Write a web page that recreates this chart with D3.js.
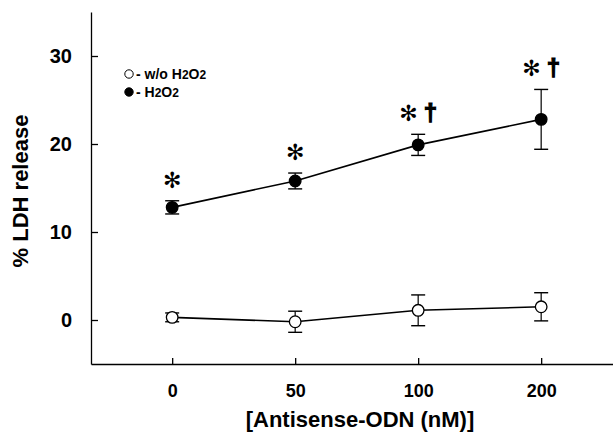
<!DOCTYPE html>
<html>
<head>
<meta charset="utf-8">
<script src="https://cdn.jsdelivr.net/npm/d3@7"></script>
<style>
  html, body { margin: 0; padding: 0; background: #fff; }
  svg { display: block; }
  text { font-family: "Liberation Sans", Arial, Helvetica, sans-serif; font-weight: bold; fill: #000; }
</style>
</head>
<body>
<script>
// ---- data ----
const categories = ["0", "50", "100", "200"];
const withoutH2O2 = [0.3, -0.2, 1.1, 1.5];
const withoutH2O2Err = [0.5, 1.2, 1.75, 1.6];
const withH2O2 = [12.8, 15.8, 19.9, 22.8];
const withH2O2Err = [0.75, 0.9, 1.2, 3.4];
const significance = ["✻", "✻", "✻†", "✻†"];
const yTicks = [0, 10, 20, 30];
const xTitle = "[Antisense-ODN (nM)]";
const yTitle = "% LDH release";

const W = 613, H = 433;
const svg = d3.select("body").append("svg").attr("width", W).attr("height", H);

const x = d3.scaleLinear().domain([-0.66, 3.584]).range([91, 613]);
const y = d3.scaleLinear().domain([-5, 35]).range([364, 12]);

// axes
const yAxis = d3.axisLeft(y).tickValues(yTicks).tickSizeInner(-7).tickSizeOuter(0).tickPadding(19);
const gy = svg.append("g").attr("transform", `translate(${x.range()[0]},0)`).call(yAxis);
gy.selectAll("text").style("font-size", "20px").style("font-family", "'Liberation Sans', Arial, sans-serif").style("font-weight", "bold");
gy.selectAll("line, path").attr("stroke", "#000").attr("stroke-width", 1.3);

const xAxis = d3.axisBottom(x).tickValues(d3.range(categories.length)).tickFormat(i => categories[i])
  .tickSizeInner(-6).tickSizeOuter(0).tickPadding(20);
const gx = svg.append("g").attr("transform", `translate(0,${y.range()[0]})`).call(xAxis);
gx.selectAll("text").style("font-size", "18px").style("font-family", "'Liberation Sans', Arial, sans-serif").style("font-weight", "bold");
gx.selectAll("line, path").attr("stroke", "#000").attr("stroke-width", 1.3);

// titles
svg.append("text").attr("x", 360).attr("y", 427).attr("text-anchor", "middle")
  .style("font-size", "22px").text(xTitle);
svg.append("text").attr("transform", `translate(28,191) rotate(-90)`).attr("text-anchor", "middle")
  .style("font-size", "22px").text(yTitle);

// series
const idx = d3.range(categories.length);
const line = d3.line().x(i => x(i));

function drawSeries(vals, errs, filled) {
  const g = svg.append("g");
  g.append("path").attr("d", line.y(i => y(vals[i]))(idx))
    .attr("fill", "none").attr("stroke", "#000").attr("stroke-width", 1.6);
  idx.forEach(i => {
    const cx = x(i), hi = y(vals[i] + errs[i]), lo = y(vals[i] - errs[i]);
    g.append("line").attr("x1", cx).attr("x2", cx).attr("y1", hi).attr("y2", lo).attr("stroke", "#000").attr("stroke-width", 1.2);
    [hi, lo].forEach(yy => g.append("line").attr("x1", cx - 7).attr("x2", cx + 7).attr("y1", yy).attr("y2", yy)
      .attr("stroke", "#000").attr("stroke-width", 1.4));
  });
  g.selectAll("circle").data(idx).join("circle")
    .attr("cx", i => x(i)).attr("cy", i => y(vals[i])).attr("r", 5.8)
    .attr("fill", filled ? "#000" : "#fff").attr("stroke", "#000").attr("stroke-width", 1.3);
}
drawSeries(withoutH2O2, withoutH2O2Err, false);
drawSeries(withH2O2, withH2O2Err, true);

// significance marks
idx.forEach(i => {
  const t = svg.append("text").attr("x", x(i)).attr("y", y(withH2O2[i] + withH2O2Err[i]) - 13)
    .attr("text-anchor", "middle");
  const s = significance[i];
  t.append("tspan").style("font-family", "'DejaVu Sans', sans-serif").style("font-weight", "bold")
    .style("font-size", "22px").text(s[0]);
  if (s.length > 1) {
    t.append("tspan").attr("dx", 6).style("font-family", "'Liberation Sans', Arial, sans-serif").style("font-weight", "bold")
      .style("font-size", "24px").attr("stroke", "#000").attr("stroke-width", 1.2).text(s.slice(1));
  }
});

// legend
const legend = svg.append("g");
const legItems = [{filled: false, label: ["- w/o H", "2", "O", "2"]}, {filled: true, label: ["- H", "2", "O", "2"]}];
legItems.forEach((d, k) => {
  const ly = 74 + k * 18;
  legend.append("circle").attr("cx", 129).attr("cy", ly).attr("r", 4.2)
    .attr("fill", d.filled ? "#000" : "#fff").attr("stroke", "#000").attr("stroke-width", 1);
  const t = legend.append("text").attr("x", 136).attr("y", ly + 5).style("font-size", "14px");
  d.label.forEach((p, j) => {
    t.append("tspan").style("font-size", j % 2 === 1 ? "12px" : "14px").text(p);
  });
});
</script>
</body>
</html>
